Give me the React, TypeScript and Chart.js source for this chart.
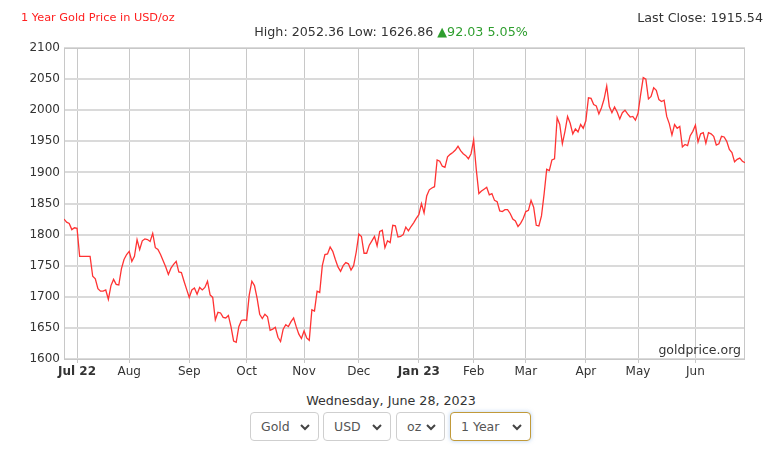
import React, { useEffect, useRef } from "react";
import { Chart, registerables } from "chart.js";

Chart.register(...registerables);

// Trading-day gold prices (USD/oz), one value per trading day, grouped by month
const pricesJun22 = [1825, 1820, 1818, 1808, 1811];
const pricesJul22 = [1810, 1765, 1765, 1765, 1765, 1765, 1733, 1729, 1713, 1709, 1709, 1711, 1696, 1718, 1728, 1720, 1719, 1745, 1760, 1768];
const pricesAug22 = [1773, 1757, 1765, 1792, 1776, 1790, 1793, 1792, 1789, 1802, 1779, 1776, 1768, 1758, 1748, 1736, 1746, 1752, 1757, 1740, 1739, 1725, 1712];
const pricesSep22 = [1699, 1711, 1714, 1704, 1715, 1711, 1715, 1725, 1703, 1699, 1663, 1675, 1674, 1667, 1666, 1670, 1652, 1629, 1626.86, 1652, 1662, 1663];
const pricesOct22 = [1662, 1703, 1725, 1718, 1698, 1672, 1665, 1672, 1668, 1646, 1648, 1651, 1635, 1628, 1648, 1655, 1652, 1660, 1666, 1652, 1640, 1633];
const pricesNov22 = [1645, 1634, 1630, 1679, 1677, 1709, 1707, 1750, 1768, 1769, 1780, 1773, 1760, 1748, 1741, 1750, 1755, 1753, 1743, 1750, 1772];
const pricesDec22 = [1801, 1797, 1770, 1770, 1783, 1790, 1797, 1782, 1805, 1807, 1779, 1790, 1787, 1815, 1814, 1796, 1797, 1800, 1812, 1806, 1813, 1819, 1826];
const pricesJan23 = [1832, 1850, 1835, 1862, 1872, 1875, 1877, 1920, 1918, 1910, 1908, 1925, 1929, 1932, 1936, 1942, 1935, 1930, 1927, 1922, 1930];
const pricesFeb23 = [1952, 1905, 1866, 1870, 1873, 1876, 1864, 1866, 1855, 1853, 1838, 1837, 1840, 1840, 1834, 1825, 1822, 1813, 1818, 1826];
const pricesMar23 = [1837, 1839, 1855, 1844, 1815, 1814, 1830, 1865, 1905, 1903, 1920, 1922, 1988, 1977, 1946, 1966, 1990, 1979, 1962, 1970, 1965, 1977, 1971];
const pricesApr23 = [1983, 2020, 2019, 2009, 2007, 1994, 2004, 2018, 2039, 2006, 1996, 2005, 1997, 1986, 1996, 2000, 1994, 1989, 1990, 1984];
const pricesMay23 = [1995, 2025, 2052.36, 2050, 2018, 2022, 2036, 2032, 2017, 2014, 2016, 1990, 1978, 1960, 1977, 1971, 1974, 1941, 1945, 1943, 1959, 1966];
const pricesJun23 = [1976, 1949, 1962, 1964, 1947, 1964, 1962, 1958, 1944, 1946, 1958, 1957, 1950, 1937, 1932, 1917, 1921, 1923, 1918, 1915.54];

const prices = [
  ...pricesJun22, ...pricesJul22, ...pricesAug22, ...pricesSep22, ...pricesOct22,
  ...pricesNov22, ...pricesDec22, ...pricesJan23, ...pricesFeb23, ...pricesMar23,
  ...pricesApr23, ...pricesMay23, ...pricesJun23,
];

// Month tick positions (trading-day index) and labels
const monthTickIdx = [5, 25, 48, 70, 92, 113, 136, 157, 177, 200, 220, 242];
const monthTickLabels = ["Jul 22", "Aug", "Sep", "Oct", "Nov", "Dec", "Jan 23", "Feb", "Mar", "Apr", "May", "Jun"];
const boldTickLabels = ["Jul 22", "Jan 23"];

const yMin = 1600;
const yMax = 2100;
const yStep = 50;

const titleText = "1 Year Gold Price in USD/oz";
const lastCloseText = "Last Close: 1915.54";
const highText = "High: 2052.36";
const lowText = "Low: 1626.86";
const changeText = "\u25B292.03 5.05%";
const dateText = "Wednesday, June 28, 2023";
const selectors = [
  { label: "Gold", left: 250, width: 69, active: false },
  { label: "USD", left: 323, width: 68, active: false },
  { label: "oz", left: 396, width: 49, active: false },
  { label: "1 Year", left: 450, width: 81, active: true },
];

const FONT = "'DejaVu Sans', Verdana, sans-serif";

const labelFor = (v: number) => {
  const i = monthTickIdx.indexOf(Math.round(v));
  return i >= 0 ? monthTickLabels[i] : "";
};

const frame = {
  id: "frame",
  beforeDatasetsDraw(chart: any) {
    const { ctx, chartArea } = chart;
    ctx.save();
    ctx.strokeStyle = "#c8c8c8";
    ctx.lineWidth = 1;
    ctx.strokeRect(chartArea.left + 0.5, chartArea.top + 0.5, chartArea.right - chartArea.left - 1, chartArea.bottom - chartArea.top);
    ctx.restore();
  },
};

function Select({ label, left, width, active }: any) {
  return (
    <div
      style={{
        position: "absolute",
        left,
        top: 412,
        width,
        height: 29,
        boxSizing: "border-box",
        border: active ? "1px solid #c19a3a" : "1px solid #cfcfcf",
        borderRadius: 4,
        boxShadow: active ? "0 0 4px rgba(120,170,230,0.55)" : "none",
        fontFamily: FONT,
        fontSize: 12.5,
        color: "#555",
        lineHeight: "27px",
        paddingLeft: 10,
        background: "#fff",
      }}
    >
      {label}
      <svg
        width="10"
        height="7"
        viewBox="0 0 10 7"
        style={{ position: "absolute", right: 8, top: 11 }}
      >
        <path d="M1 1 L5 5 L9 1" stroke="#444" strokeWidth="2" fill="none" />
      </svg>
    </div>
  );
}

export default function App() {
  const canvasRef = useRef<HTMLCanvasElement | null>(null);

  useEffect(() => {
    const canvas = canvasRef.current;
    if (!canvas) return;
    const chart = new Chart(canvas, {
      type: "line",
      data: {
        datasets: [
          {
            data: prices.map((v, i) => ({ x: i, y: v })),
            borderColor: "#ff3333",
            borderWidth: 1.3,
            pointRadius: 0,
            tension: 0,
            fill: false,
          },
        ],
      },
      options: {
        animation: false,
        responsive: false,
        maintainAspectRatio: false,
        parsing: false,
        layout: { padding: { top: 48, right: 37, left: 0, bottom: 0 } },
        plugins: { legend: { display: false }, tooltip: { enabled: false } },
        scales: {
          x: {
            type: "linear",
            min: 0,
            max: prices.length - 1,
            afterBuildTicks: (scale: any) => {
              scale.ticks = monthTickIdx.map((v) => ({ value: v }));
            },
            afterFit: (scale: any) => {
              scale.height = 25;
            },
            grid: {
              color: "#c8c8c8",
              lineWidth: 1,
              drawTicks: true,
              tickLength: 4,
            },
            border: { display: false },
            ticks: {
              autoSkip: false,
              maxRotation: 0,
              padding: 2,
              color: "#333",
              callback: (v: any) => labelFor(Number(v)),
              font: (ctx: any) => ({
                family: FONT,
                size: 12,
                weight: ctx.tick && boldTickLabels.includes(labelFor(ctx.tick.value)) ? "bold" : "normal",
              }),
            },
          },
          y: {
            min: yMin,
            max: yMax,
            afterFit: (scale: any) => {
              scale.width = 64;
            },
            grid: { color: "#dadada", lineWidth: 2, drawTicks: false },
            border: { display: false },
            ticks: {
              stepSize: yStep,
              padding: 4,
              color: "#333",
              callback: (v: any) => String(v),
              font: { family: FONT, size: 12 },
            },
          },
        },
      },
      plugins: [frame],
    } as any);
    return () => chart.destroy();
  }, []);

  return (
    <div style={{ position: "fixed", left: 0, top: 0, width: 782, height: 451, background: "#fff", overflow: "hidden" }}>
      <canvas ref={canvasRef} width={782} height={384} style={{ position: "absolute", left: 0, top: 0, width: 782, height: 384 }} />
      <div style={{ position: "absolute", left: 21, top: 11, fontFamily: FONT, fontSize: 11.3, color: "#ff2020", whiteSpace: "nowrap" }}>
        {titleText}
      </div>
      <div style={{ position: "absolute", right: 19, top: 10, fontFamily: FONT, fontSize: 12.7, color: "#333", whiteSpace: "nowrap" }}>
        {lastCloseText}
      </div>
      <div style={{ position: "absolute", left: 0, width: 782, top: 24, textAlign: "center", fontFamily: FONT, fontSize: 12.7, color: "#333", whiteSpace: "nowrap" }}>
        {highText} {lowText} <span style={{ color: "#2e9e2e" }}>{changeText}</span>
      </div>
      <div style={{ position: "absolute", right: 41, top: 342, fontFamily: FONT, fontSize: 12.5, color: "#333", whiteSpace: "nowrap" }}>
        goldprice.org
      </div>
      <div style={{ position: "absolute", left: 0, width: 782, top: 393, textAlign: "center", fontFamily: FONT, fontSize: 12.7, color: "#333", whiteSpace: "nowrap" }}>
        {dateText}
      </div>
      {selectors.map((s) => (
        <Select key={s.label} {...s} />
      ))}
    </div>
  );
}
